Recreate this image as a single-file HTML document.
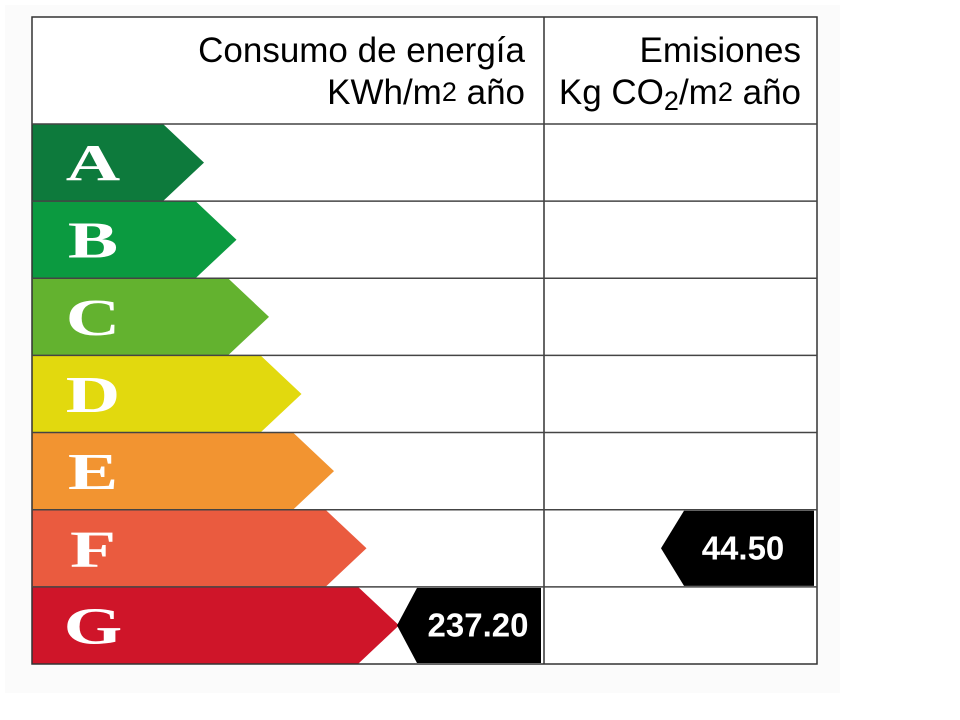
<!DOCTYPE html>
<html><head><meta charset="utf-8">
<style>
html,body{margin:0;padding:0;background:#fff;width:960px;height:720px;overflow:hidden}
svg{display:block}
</style></head>
<body>
<svg id="chart" width="960" height="720" xmlns="http://www.w3.org/2000/svg">
  <rect x="5" y="5" width="835" height="688" fill="#fbfbfb"/>
  <rect x="32" y="17" width="785" height="647" fill="#fff"/>
  <g id="bars"></g>
  <g id="grid"></g>
  <text x="525" y="62" text-anchor="end" font-family="Liberation Sans, sans-serif" font-size="35" fill="#000">Consumo de energía</text>
  <text x="525" y="104" text-anchor="end" font-family="Liberation Sans, sans-serif" font-size="35" fill="#000">KWh/m<tspan font-size="27" dy="-3">2</tspan><tspan dy="3"> año</tspan></text>
  <text x="801" y="62" text-anchor="end" font-family="Liberation Sans, sans-serif" font-size="35" fill="#000">Emisiones</text>
  <text x="801" y="104" text-anchor="end" font-family="Liberation Sans, sans-serif" font-size="35" fill="#000">Kg CO<tspan font-size="27" dy="6">2</tspan><tspan dy="-6">/m</tspan><tspan font-size="27" dy="-3">2</tspan><tspan dy="3"> año</tspan></text>
</svg>
<script>
const ratings = ["A","B","C","D","E","F","G"];
const ratingColors = ["#0d7a3c","#0b9a40","#63b22f","#e2d90e","#f29431","#ea5b3f","#cf1529"];
const energyValue = 237.20;
const energyRating = "G";
const emissionValue = 44.50;
const emissionRating = "F";

const NS = "http://www.w3.org/2000/svg";
const left = 32, right = 817, mid = 544, top0 = 124, rowH = 77.14;
const bars = document.getElementById("bars");
const grid = document.getElementById("grid");
function rowY(i){ return top0 + i*rowH; }
function mk(tag, attrs, parent){
  const e = document.createElementNS(NS, tag);
  for (const k in attrs) e.setAttribute(k, attrs[k]);
  parent.appendChild(e); return e;
}
ratings.forEach((r,i)=>{
  const y0 = rowY(i), y1 = rowY(i+1), ym = (y0+y1)/2;
  const rx = 163 + i*32.5, tip = rx + 41;
  const p = mk("polygon", {points:`${left},${y0} ${rx},${y0} ${tip},${ym} ${rx},${y1} ${left},${y1}`, fill: ratingColors[i]}, bars);
  
  
  const t = mk("text", {x: 93, y: ym+18, "text-anchor":"middle", "font-family":"Liberation Serif, serif", "font-weight":"bold", "font-size":"52", fill:"#fff", transform:`translate(93 0) scale(1.45 1) translate(-93 0)`}, bars);
  t.textContent = r;
  
  
});
{
  const i = ratings.indexOf(energyRating);
  const y0 = rowY(i)+1, y1 = rowY(i+1)-1, ym=(y0+y1)/2;
  const p = mk("polygon", {points:`397,${ym} 417,${y0} 541,${y0} 541,${y1} 417,${y1}`, fill:"#000"}, bars);
  
  
  const t = mk("text", {x: 478, y: ym+11, "text-anchor":"middle", "font-family":"Liberation Sans, sans-serif", "font-weight":"bold", "font-size":"33", fill:"#fff"}, bars);
  t.textContent = energyValue.toFixed(2);
  
  
}
{
  const i = ratings.indexOf(emissionRating);
  const y0 = rowY(i)+1, y1 = rowY(i+1)-1, ym=(y0+y1)/2;
  const p = mk("polygon", {points:`661,${ym} 684,${y0} 814,${y0} 814,${y1} 684,${y1}`, fill:"#000"}, bars);
  
  
  const t = mk("text", {x: 743, y: ym+11, "text-anchor":"middle", "font-family":"Liberation Sans, sans-serif", "font-weight":"bold", "font-size":"33", fill:"#fff"}, bars);
  t.textContent = emissionValue.toFixed(2);
  
  
}
const outer = mk("rect", {x:left, y:17, width:right-left, height:664-17, fill:"none", stroke:"#333", "stroke-width":"1.5"}, grid);


const vl = mk("line", {x1:mid, y1:17, x2:mid, y2:664, stroke:"#333", "stroke-width":"1.5"}, grid);


for (let i=0;i<ratings.length;i++){
  const y = rowY(i);
  const l = mk("line", {x1:left, y1:y, x2:right, y2:y, stroke:"#444", "stroke-width":"1.5"}, grid);
  
  
}
</script>
</body></html>
